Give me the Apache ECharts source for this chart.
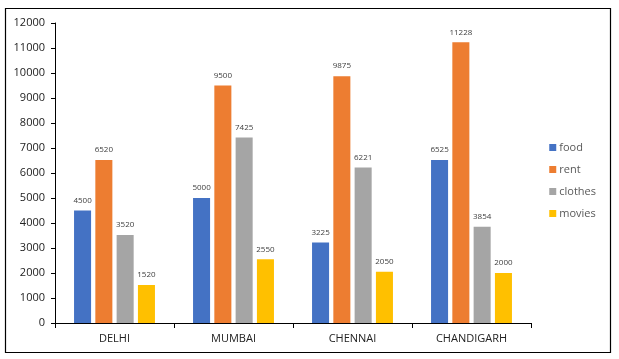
<!DOCTYPE html>
<html><head><meta charset="utf-8">
<script src="https://cdn.jsdelivr.net/npm/echarts@6/dist/echarts.min.js"></script>
<style>html,body{margin:0;padding:0;background:#fff}#c{width:619px;height:359px}</style>
</head><body><div id="c"></div>
<script>
var categories = ['DELHI', 'MUMBAI', 'CHENNAI', 'CHANDIGARH'];
var food = [4500, 5000, 3225, 6525];
var rent = [6520, 9500, 9875, 11228];
var clothes = [3520, 7425, 6221, 3854];
var movies = [1520, 2550, 2050, 2000];
var seriesNames = ['food', 'rent', 'clothes', 'movies'];
var seriesData = [food, rent, clothes, movies];
var colors = ['#4472C4', '#ED7D31', '#A5A5A5', '#FFC000'];

var chart = echarts.init(document.getElementById('c'));
var font = 'Open Sans';
chart.setOption({
  animation: false,
  color: colors,
  graphic: [{type:'rect', shape:{x:5.5,y:8.5,width:605,height:344}, style:{fill:'none', stroke:'#000', lineWidth:1.2}, z:-1}],
  grid: {left: 55, right: 88, top: 23, bottom: 36},
  legend: {
    orient: 'vertical', right: 18, top: 137, itemWidth: 7, itemHeight: 7, itemGap: 11,
    icon: 'rect',
    textStyle: {fontFamily: font, fontSize: 11, color: '#595959', padding:[0,0,0,-2]},
    data: seriesNames
  },
  xAxis: {
    type: 'category', data: categories,
    axisLine: {lineStyle: {color: '#000'}},
    axisTick: {show: true, length: 5, lineStyle: {color: '#000'}},
    axisLabel: {fontFamily: font, fontSize: 11, color: '#222', margin: 10}
  },
  yAxis: {
    type: 'value', min: 0, max: 12000, interval: 1000,
    axisLine: {show: true, lineStyle: {color: '#000'}},
    axisTick: {show: true, length: 4, lineStyle: {color: '#000'}},
    splitLine: {show: false},
    axisLabel: {fontFamily: font, fontSize: 11, color: '#222', margin: 10, formatter: function(v){ return String(v); }}
  },
  series: seriesNames.map(function(n, i){
    return {
      name: n, type: 'bar', data: seriesData[i],
      barGap: '25%', barCategoryGap: '32%',
      label: {show: true, position: 'top', distance: 6, fontFamily: font, fontSize: 8, color: '#404040'}
    };
  })
});
</script></body></html>
